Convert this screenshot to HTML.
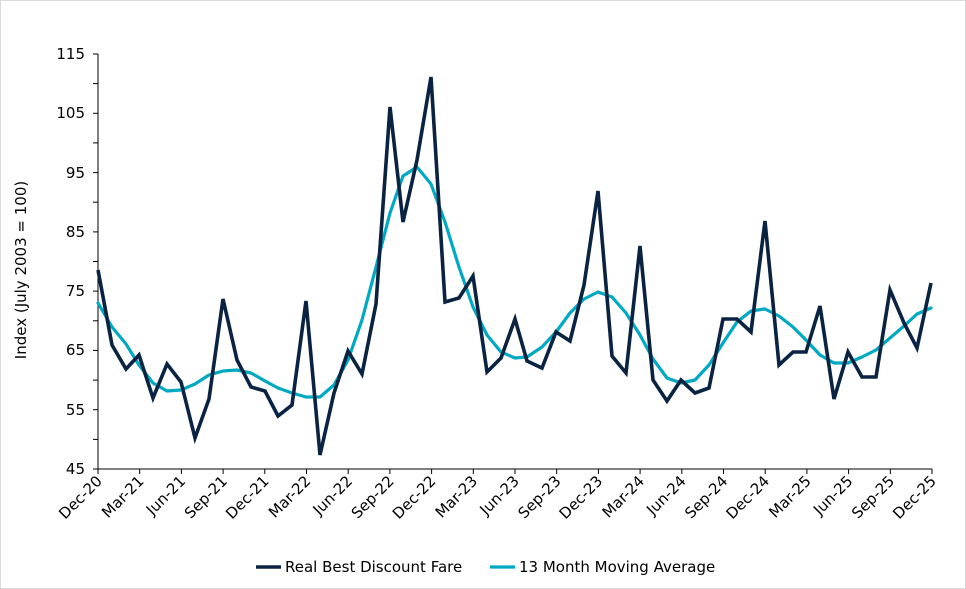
<!DOCTYPE html>
<html><head><style>
body{margin:0;background:#fff;}
svg{display:block;font-family:"DejaVu Sans","Liberation Sans",sans-serif;}
</style></head><body>
<svg width="966" height="589" viewBox="0 0 966 589" xmlns="http://www.w3.org/2000/svg">
<rect x="0.5" y="0.5" width="965" height="588" fill="#fff" stroke="#d9d9d9"/>
<g stroke="#000" stroke-width="1">
<line x1="98" y1="54" x2="98" y2="469"/>
<line x1="98" y1="469" x2="932" y2="469"/>
</g>
<g stroke="#000" stroke-width="1">
<line x1="93" y1="54" x2="98" y2="54"/><line x1="93" y1="83.6" x2="98" y2="83.6"/>
<line x1="93" y1="113.3" x2="98" y2="113.3"/><line x1="93" y1="142.9" x2="98" y2="142.9"/>
<line x1="93" y1="172.6" x2="98" y2="172.6"/><line x1="93" y1="202.2" x2="98" y2="202.2"/>
<line x1="93" y1="231.9" x2="98" y2="231.9"/><line x1="93" y1="261.5" x2="98" y2="261.5"/>
<line x1="93" y1="291.1" x2="98" y2="291.1"/><line x1="93" y1="320.8" x2="98" y2="320.8"/>
<line x1="93" y1="350.4" x2="98" y2="350.4"/><line x1="93" y1="380.1" x2="98" y2="380.1"/>
<line x1="93" y1="409.7" x2="98" y2="409.7"/><line x1="93" y1="439.4" x2="98" y2="439.4"/>
<line x1="93" y1="469" x2="98" y2="469"/>
<line x1="98" y1="469" x2="98" y2="474"/><line x1="139.7" y1="469" x2="139.7" y2="474"/>
<line x1="181.4" y1="469" x2="181.4" y2="474"/><line x1="223.1" y1="469" x2="223.1" y2="474"/>
<line x1="264.8" y1="469" x2="264.8" y2="474"/><line x1="306.5" y1="469" x2="306.5" y2="474"/>
<line x1="348.2" y1="469" x2="348.2" y2="474"/><line x1="389.9" y1="469" x2="389.9" y2="474"/>
<line x1="431.6" y1="469" x2="431.6" y2="474"/><line x1="473.3" y1="469" x2="473.3" y2="474"/>
<line x1="515" y1="469" x2="515" y2="474"/><line x1="556.7" y1="469" x2="556.7" y2="474"/>
<line x1="598.4" y1="469" x2="598.4" y2="474"/><line x1="640.1" y1="469" x2="640.1" y2="474"/>
<line x1="681.8" y1="469" x2="681.8" y2="474"/><line x1="723.5" y1="469" x2="723.5" y2="474"/>
<line x1="765.2" y1="469" x2="765.2" y2="474"/><line x1="806.9" y1="469" x2="806.9" y2="474"/>
<line x1="848.6" y1="469" x2="848.6" y2="474"/><line x1="890.3" y1="469" x2="890.3" y2="474"/>
<line x1="932" y1="469" x2="932" y2="474"/>
</g>
<g font-size="15" fill="#000" text-anchor="end">
<text x="85" y="59">115</text><text x="85" y="118">105</text><text x="85" y="178">95</text>
<text x="85" y="237">85</text><text x="85" y="296">75</text><text x="85" y="355">65</text>
<text x="85" y="415">55</text><text x="85" y="474">45</text>
</g>
<text transform="translate(26,270) rotate(-90)" font-size="15" text-anchor="middle">Index (July 2003 = 100)</text>
<g font-size="15" text-anchor="end">
<text transform="translate(103,482) rotate(-45)">Dec-20</text>
<text transform="translate(144.7,482) rotate(-45)">Mar-21</text>
<text transform="translate(186.4,482) rotate(-45)">Jun-21</text>
<text transform="translate(228.1,482) rotate(-45)">Sep-21</text>
<text transform="translate(269.8,482) rotate(-45)">Dec-21</text>
<text transform="translate(311.5,482) rotate(-45)">Mar-22</text>
<text transform="translate(353.2,482) rotate(-45)">Jun-22</text>
<text transform="translate(394.9,482) rotate(-45)">Sep-22</text>
<text transform="translate(436.6,482) rotate(-45)">Dec-22</text>
<text transform="translate(478.3,482) rotate(-45)">Mar-23</text>
<text transform="translate(520,482) rotate(-45)">Jun-23</text>
<text transform="translate(561.7,482) rotate(-45)">Sep-23</text>
<text transform="translate(603.4,482) rotate(-45)">Dec-23</text>
<text transform="translate(645.1,482) rotate(-45)">Mar-24</text>
<text transform="translate(686.8,482) rotate(-45)">Jun-24</text>
<text transform="translate(728.5,482) rotate(-45)">Sep-24</text>
<text transform="translate(770.2,482) rotate(-45)">Dec-24</text>
<text transform="translate(811.9,482) rotate(-45)">Mar-25</text>
<text transform="translate(853.6,482) rotate(-45)">Jun-25</text>
<text transform="translate(895.3,482) rotate(-45)">Sep-25</text>
<text transform="translate(937,482) rotate(-45)">Dec-25</text>
</g>
<polyline fill="none" stroke="#00a9c2" stroke-width="3.2" stroke-linejoin="round" stroke-linecap="round" points="98,303 112,327 126,344 139,365 153,383 167,391 181,390 195,384 209,375 223,371 237,370 251,373 265,381 278,388 292,393 306,397 320,397 334,385 348,360 362,320 376,267 390,213 403,176 417,167 431,184 445,222 459,267 473,307 487,335 501,352 515,358 527,357 542,347 556,332 570,313 584,299 598,292 612,297 626,313 640,335 653,359 667,378 681,383 695,380 709,365 723,343 737,322 751,311 765,309 779,316 793,327 806,340 820,355 834,363 848,363 862,357 876,350 890,338 904,326 917,314 931,308"/>
<polyline fill="none" stroke="#0b2342" stroke-width="3.6" stroke-linejoin="miter" points="98,270 112,345 126,369 139,355 153,398 167,364 181,382 195,438 209,399 223,299 237,360 251,387 265,391 278,416 292,405 306,301 320,455 334,393 348,351 362,374 376,304 390,107 403,222 417,160 431,77 445,302 459,298 473,276 487,372 501,358 515,319 527,361 542,368 556,332 570,341 584,285 598,191 612,356 626,373 640,246 653,380 667,401 681,380 695,393 709,388 723,319 737,319 751,332 765,221 779,365 793,352 806,352 820,306 834,399 848,352 862,377 876,377 890,290 904,323 917,348 931,283"/>
<line x1="256" y1="567" x2="281" y2="567" stroke="#0b2342" stroke-width="3.6"/>
<text x="285" y="572" font-size="15">Real Best Discount Fare</text>
<line x1="490" y1="567" x2="515" y2="567" stroke="#00a9c2" stroke-width="3.2"/>
<text x="519" y="572" font-size="15">13 Month Moving Average</text>
</svg>
</body></html>
